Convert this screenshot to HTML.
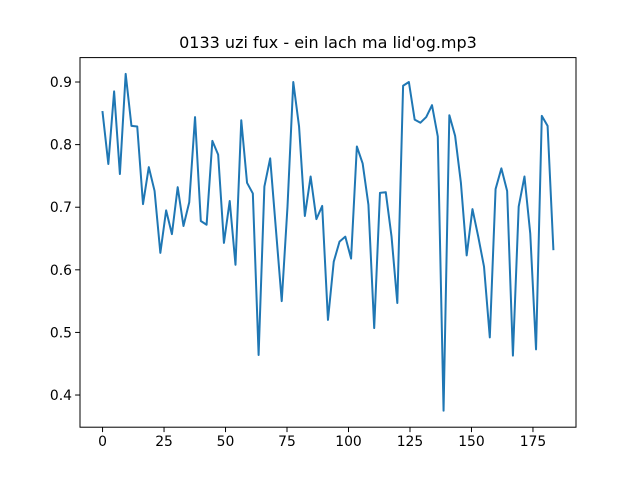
<!DOCTYPE html>
<html><head><meta charset="utf-8"><style>
body{margin:0;background:#fff;}
svg{display:block;font-family:"DejaVu Sans","Liberation Sans",sans-serif;}
</style></head><body>
<svg id="chart" width="640" height="480" viewBox="0 0 640 480">
<rect width="640" height="480" fill="#fff"/>
<text x="328" y="48" text-anchor="middle" font-size="16">0133 uzi fux - ein lach ma lid'og.mp3</text>
<g id="ticks"></g>
<polyline id="series" fill="none" stroke="#1f77b4" stroke-width="2" stroke-linejoin="round" stroke-linecap="square"/>
<rect x="80" y="57.6" width="496" height="369.6" fill="none" stroke="#000" stroke-width="1"/>
</svg>
<script>
const values=[0.852,0.769,0.885,0.753,0.913,0.830,0.829,0.705,0.764,0.726,0.627,0.695,0.657,0.732,0.670,0.708,0.844,0.678,0.672,0.806,0.784,0.643,0.710,0.608,0.839,0.739,0.722,0.464,0.733,0.778,0.664,0.550,0.701,0.900,0.829,0.686,0.749,0.681,0.702,0.520,0.613,0.645,0.653,0.618,0.797,0.770,0.704,0.507,0.723,0.724,0.653,0.547,0.894,0.900,0.840,0.835,0.844,0.863,0.813,0.375,0.847,0.814,0.739,0.623,0.697,0.653,0.605,0.492,0.729,0.762,0.726,0.463,0.701,0.749,0.658,0.473,0.846,0.830,0.633];
const xStep=2.35;
const xTicks=[0,25,50,75,100,125,150,175];
const yTicks=[0.4,0.5,0.6,0.7,0.8,0.9];
const xMin=-9.17,xMax=192.5,yMin=0.3486,yMax=0.939;
const L=80,R=576,T=57.6,B=427.2;
function sx(v){return L+(v-xMin)/(xMax-xMin)*(R-L);}
function sy(v){return B-(v-yMin)/(yMax-yMin)*(B-T);}
const NS="http://www.w3.org/2000/svg";
const line=document.getElementById('series');
line.setAttribute('points',values.map((v,i)=>sx(i*xStep).toFixed(2)+','+sy(v).toFixed(2)).join(' '));
const g=document.getElementById('ticks');
xTicks.forEach(t=>{
 const x=sx(t);
 const l=document.createElementNS(NS,'line');
 l.setAttribute('x1',x);l.setAttribute('x2',x);l.setAttribute('y1',B);l.setAttribute('y2',B+4.9);l.setAttribute('stroke','#000');
 
 
 g.appendChild(l);
 const tx=document.createElementNS(NS,'text');
 tx.setAttribute('x',x);tx.setAttribute('y',B+19);tx.setAttribute('text-anchor','middle');tx.setAttribute('font-size','13.9');
 tx.textContent=String(t);
 
 
 g.appendChild(tx);
});
yTicks.forEach(t=>{
 const y=sy(t);
 const l=document.createElementNS(NS,'line');
 l.setAttribute('x1',L-4.9);l.setAttribute('x2',L);l.setAttribute('y1',y);l.setAttribute('y2',y);l.setAttribute('stroke','#000');
 
 
 g.appendChild(l);
 const tx=document.createElementNS(NS,'text');
 tx.setAttribute('x',L-8);tx.setAttribute('y',y+5);tx.setAttribute('text-anchor','end');tx.setAttribute('font-size','13.9');
 tx.textContent=t.toFixed(1);
 
 
 g.appendChild(tx);
});
</script>
</body></html>
